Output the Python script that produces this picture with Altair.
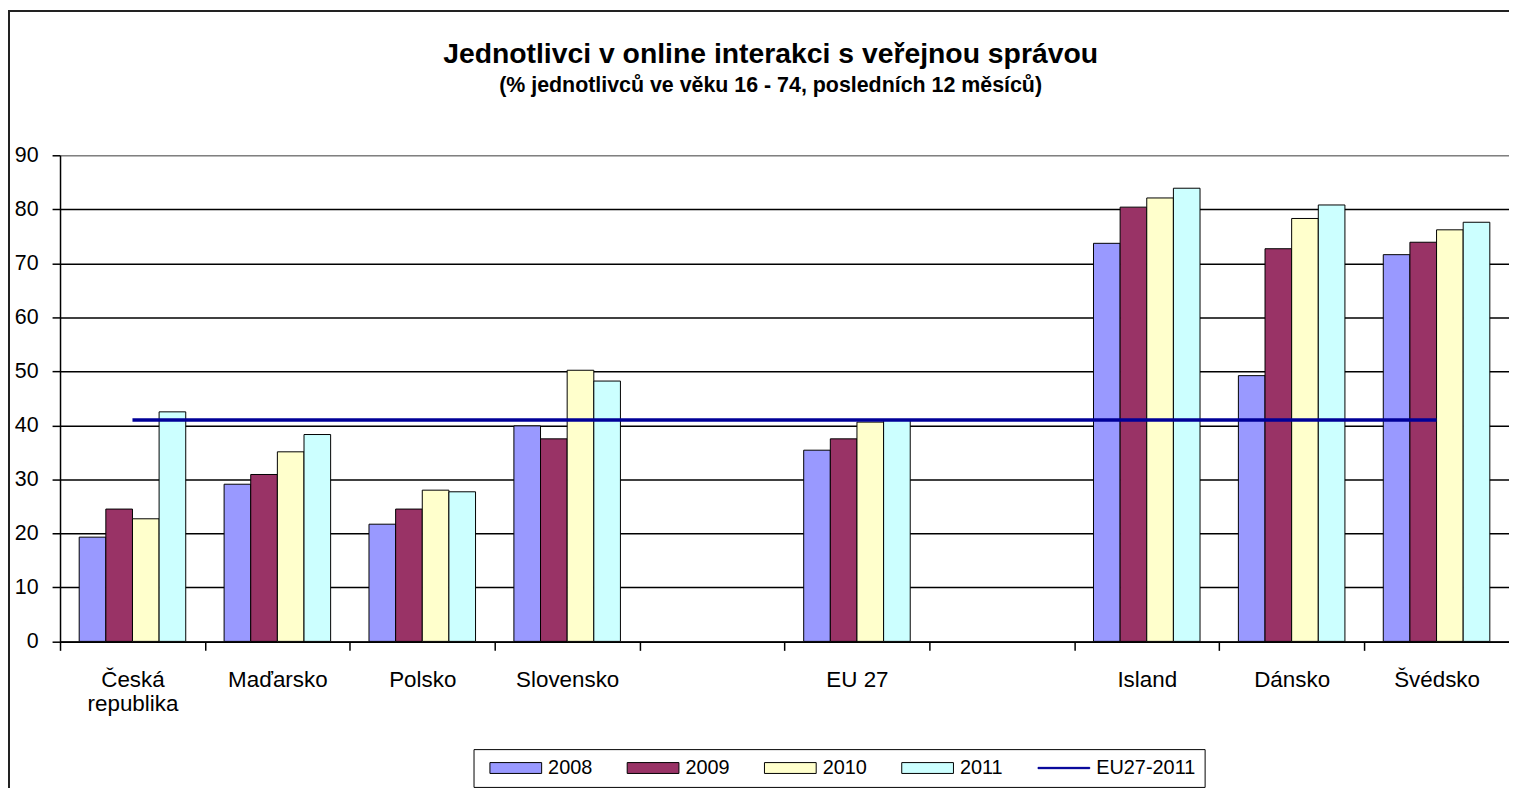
import altair as alt
import pandas as pd

# ---- data ----
categories = ["Česká republika", "Maďarsko", "Polsko", "Slovensko", " ",
              "EU 27", "  ", "Island", "Dánsko", "Švédsko"]
years = ["2008", "2009", "2010", "2011"]
v2008 = [19.3, 29.1, 21.7, 39.9, None, 35.4, None, 73.7, 49.2, 71.6]
v2009 = [24.5, 30.9, 24.5, 37.5, None, 37.5, None, 80.4, 72.7, 73.9]
v2010 = [22.7, 35.1, 28.0, 50.2, None, 40.6, None, 82.1, 78.3, 76.2]
v2011 = [42.5, 38.3, 27.7, 48.2, None, 41.0, None, 83.9, 80.8, 77.6]
eu27_2011 = 41.0
line_name = "EU27-2011"

bar_colors = ["#9999FF", "#993366", "#FFFFCC", "#CCFFFF"]
line_color = "#000098"

rows = []
for yr, vals in zip(years, [v2008, v2009, v2010, v2011]):
    for c, v in zip(categories, vals):
        if v is not None:
            rows.append({"category": c, "year": yr, "value": v})
df_bars = pd.DataFrame(rows)
df_line = pd.DataFrame({"category": categories, "value": [eu27_2011] * len(categories)})
series = years + [line_name]
df_legend = pd.DataFrame({"series": series})
df_frame = pd.DataFrame({"k": [0]})

FONT = "Liberation Sans"
W = 1456.7
H = 488.7

x_enc = alt.X(
    "category:N",
    sort=categories,
    scale=alt.Scale(domain=categories, paddingInner=0, paddingOuter=0),
    axis=alt.Axis(
        title=None, labelAngle=0, tickBand="extent", ticks=True, tickSize=9,
        tickColor="black", tickWidth=1.5, domainColor="black", domainWidth=1.5,
        labelPadding=18, labelFontSize=22.5, labelFont=FONT, labelColor="black",
        labelLineHeight=24, labelOverlap=False, grid=False,
        labelExpr="datum.value == 'Česká republika' ? ['Česká', 'republika'] : datum.value",
    ),
)
y_enc = alt.Y(
    "value:Q",
    scale=alt.Scale(domain=[0, 90], nice=False, zero=True),
    axis=alt.Axis(
        title=None, values=list(range(0, 91, 10)), grid=True,
        gridColor={"condition": {"test": "datum.value == 90", "value": "#808080"}, "value": "black"},
        gridWidth=1.5, domainColor="black", domainWidth=1.5, tickColor="black",
        tickWidth=1.5, tickSize=8, labelPadding=14, labelFontSize=21.5,
        labelFont=FONT, labelColor="black",
    ),
)

bars = alt.Chart(df_bars).mark_bar(stroke="black", strokeWidth=1, opacity=1).encode(
    x=x_enc,
    xOffset=alt.XOffset("year:N", sort=years,
                        scale=alt.Scale(domain=years, paddingInner=0, paddingOuter=0.72)),
    y=y_enc,
    fill=alt.Fill("year:N", scale=alt.Scale(domain=years, range=bar_colors), legend=None),
)

line = alt.Chart(df_line).mark_line(color=line_color, strokeWidth=3.5).encode(
    x=alt.X("category:N", sort=categories),
    y=alt.Y("value:Q"),
)

leg = alt.Legend(
    title=None, orient="none", legendX=415.7, legendY=597, direction="horizontal",
    symbolSize=2704, clipHeight=20, columnPadding=27, labelOffset=6, symbolOffset=7,
    padding=9, strokeColor="black", fillColor="white", labelFontSize=20,
    labelFont=FONT, labelColor="black", symbolStrokeWidth=1, symbolOpacity=1,
)
rect_path = "M-1,-0.21H1V0.21H-1Z"
thin_path = "M-1,-0.025H1V0.025H-1Z"
legend_layer = alt.Chart(df_legend).mark_point(filled=True, size=0).encode(
    color=alt.Color("series:N", sort=series,
                    scale=alt.Scale(domain=series, range=bar_colors + [line_color]), legend=leg),
    stroke=alt.Stroke("series:N", sort=series,
                      scale=alt.Scale(domain=series, range=["black"] * 4 + [line_color]), legend=leg),
    shape=alt.Shape("series:N", sort=series,
                    scale=alt.Scale(domain=series, range=[rect_path] * 4 + [thin_path]), legend=leg),
)

frame = alt.Chart(df_frame).mark_rect(fill="transparent", stroke="#222222", strokeWidth=2, clip=False).encode(
    x=alt.value(-51.3), x2=alt.value(W + 200), y=alt.value(-145), y2=alt.value(H + 400),
)

chart = alt.layer(frame, legend_layer, bars, line).properties(
    width=W,
    height=H,
    title=alt.TitleParams(
        text="Jednotlivci v online interakci s veřejnou správou",
        subtitle="(% jednotlivců ve věku 16 - 74, posledních 12 měsíců)",
        anchor="middle", frame="group", dx=-14, offset=-87,
        fontSize=28.5, font=FONT, fontWeight="bold", color="black",
        subtitleFont=FONT, subtitleFontSize=21.5, subtitleFontWeight="bold",
        subtitleColor="black", subtitlePadding=7,
    ),
    autosize=alt.AutoSizeParams(type="none"),
    padding={"left": 52.3, "top": 146, "right": 0, "bottom": 145},
).configure_view(
    fill="#C0C0C0", stroke="#808080", strokeWidth=1.5,
).configure(background="white")

chart.save("out.html", embed_options={"renderer": "svg", "actions": False})
